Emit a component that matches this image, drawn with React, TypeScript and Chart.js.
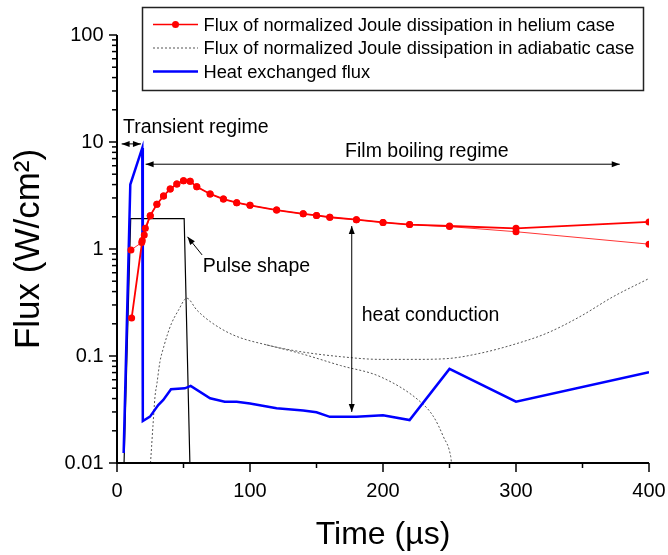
import React, { useEffect, useRef } from 'react';
import { Chart, registerables } from 'chart.js';

Chart.register(...registerables);

const FONT = '"Liberation Sans", Arial, Helvetica, sans-serif';

// Helium case, branch ending high (thicker line)
const heliumTimesA = [11, 19, 21.3, 25, 30, 35, 40, 45, 50, 55, 60, 70, 80, 90, 100, 120, 140, 150, 160, 180, 200, 220, 250, 300, 400];
const heliumFluxA = [0.226, 1.2, 1.56, 2.05, 2.62, 3.13, 3.64, 4.05, 4.35, 4.29, 3.82, 3.27, 2.93, 2.71, 2.56, 2.31, 2.13, 2.06, 1.98, 1.88, 1.77, 1.69, 1.64, 1.56, 1.79];
// Helium case, branch ending low (thin line)
const heliumTimesB = [10.5, 18.6, 20.5, 25, 30, 35, 40, 45, 50, 55, 60, 70, 80, 90, 100, 120, 140, 150, 160, 180, 200, 220, 250, 300, 400];
const heliumFluxB = [0.98, 1.15, 1.35, 2.05, 2.62, 3.13, 3.64, 4.05, 4.35, 4.29, 3.82, 3.27, 2.93, 2.71, 2.56, 2.31, 2.13, 2.06, 1.98, 1.88, 1.77, 1.69, 1.62, 1.45, 1.11];

// Adiabatic case (two dotted branches)
const adiabaticTimesUpper = [25.2, 26, 27, 28.6, 30, 32.3, 35, 38, 41, 46, 52.5, 60, 70, 87.5, 112.5, 137.5, 168, 198, 223, 248, 273, 300, 323, 348, 373, 400];
const adiabaticFluxUpper = [0.01, 0.0142, 0.022, 0.042, 0.055, 0.0885, 0.12, 0.16, 0.202, 0.265, 0.347, 0.269, 0.21, 0.157, 0.127, 0.11, 0.0986, 0.093, 0.093, 0.0945, 0.106, 0.13, 0.163, 0.233, 0.358, 0.53];
const adiabaticTimesLower = [112.5, 137.5, 168, 198, 228, 238, 245.4, 250.9, 251.5];
const adiabaticFluxLower = [0.127, 0.106, 0.0815, 0.064, 0.0374, 0.0271, 0.0176, 0.0115, 0.01];

// Heat exchanged flux
const heatTimes = [5, 10, 19, 19.4, 24.8, 31, 34.8, 40.6, 51, 55.4, 70, 81, 90, 100, 120, 140, 150, 160, 180, 200, 220, 250, 300, 400];
const heatFlux = [0.0124, 4.0, 8.8, 0.0247, 0.0271, 0.0348, 0.0388, 0.0489, 0.0499, 0.0525, 0.0403, 0.0374, 0.0374, 0.036, 0.0325, 0.031, 0.0298, 0.027, 0.027, 0.028, 0.0252, 0.0757, 0.0374, 0.0705];

// Pulse shape
const pulseTimes = [5.3, 10.3, 50.5, 54.8];
const pulseFlux = [0.01, 1.92, 1.92, 0.01];

const xTickValues = [0, 100, 200, 300, 400];
const xTickLabels = ['0', '100', '200', '300', '400'];
const xMinorTickValues = [50, 150, 250, 350];
const yTickValues = [0.01, 0.1, 1, 10, 100];
const yTickLabels = ['0.01', '0.1', '1', '10', '100'];

const legendLabels = [
  'Flux of normalized Joule dissipation in helium case',
  'Flux of normalized Joule dissipation in adiabatic case',
  'Heat exchanged flux',
];

const RED = '#ff0000';
const BLUE = '#0000ff';
const GRAY = '#555555';

function pts(xs: number[], ys: number[]) {
  return xs.map((x, i) => ({ x, y: ys[i] }));
}

function head(ctx: CanvasRenderingContext2D, x1: number, y1: number, x2: number, y2: number, len = 8, half = 3) {
  const a = Math.atan2(y2 - y1, x2 - x1);
  const c = Math.cos(a), s = Math.sin(a);
  ctx.beginPath();
  ctx.moveTo(x2, y2);
  ctx.lineTo(x2 - len * c + half * s, y2 - len * s - half * c);
  ctx.lineTo(x2 - len * c - half * s, y2 - len * s + half * c);
  ctx.closePath();
  ctx.fill();
}

function arrow(ctx: CanvasRenderingContext2D, x1: number, y1: number, x2: number, y2: number, both: boolean) {
  ctx.beginPath();
  ctx.moveTo(x1, y1);
  ctx.lineTo(x2, y2);
  ctx.stroke();
  head(ctx, x1, y1, x2, y2);
  if (both) head(ctx, x2, y2, x1, y1);
}

const overlayPlugin = {
  id: 'overlay',
  afterDraw(chart: any) {
    const { ctx, chartArea: ca, scales } = chart;
    const xs = scales.x, ys = scales.y;
    const X = (t: number) => xs.getPixelForValue(t);
    const Y = (v: number) => ys.getPixelForValue(v);
    ctx.save();

    // axes
    ctx.strokeStyle = '#000';
    ctx.lineWidth = 2;
    ctx.beginPath();
    ctx.moveTo(ca.left, ca.top);
    ctx.lineTo(ca.left, ca.bottom);
    ctx.stroke();
    ctx.beginPath();
    ctx.moveTo(ca.left - 1, ca.bottom);
    ctx.lineTo(ca.right, ca.bottom);
    ctx.stroke();

    // tick marks
    ctx.lineWidth = 1.5;
    const line = (a: number, b: number, c: number, d: number) => {
      ctx.beginPath(); ctx.moveTo(a, b); ctx.lineTo(c, d); ctx.stroke();
    };
    xTickValues.forEach((v) => { const p = X(v); line(p, ca.bottom, p, ca.bottom + 9); });
    xMinorTickValues.forEach((v) => { const p = X(v); line(p, ca.bottom, p, ca.bottom + 5); });
    yTickValues.forEach((v, i) => {
      const p = Y(v);
      line(ca.left, p, ca.left - 8, p);
      if (i < yTickValues.length - 1) {
        for (let k = 2; k <= 9; k++) {
          const q = Y(v * k);
          line(ca.left, q, ca.left - 5, q);
        }
      }
    });

    // annotations
    ctx.strokeStyle = '#000';
    ctx.fillStyle = '#000';
    ctx.lineWidth = 1;
    arrow(ctx, X(3.5), Y(9.6), X(18), Y(9.6), true);
    arrow(ctx, X(21.5), Y(6.2), X(378), Y(6.2), true);
    arrow(ctx, X(176.5), Y(1.64), X(176.5), Y(0.03), true);
    arrow(ctx, X(64), Y(0.88), X(53), Y(1.3), false);

    ctx.font = `19.5px ${FONT}`;
    ctx.textBaseline = 'middle';
    ctx.textAlign = 'left';
    ctx.fillText('Transient regime', X(4.5), Y(13.7));
    ctx.fillText('Pulse shape', X(64.5), Y(0.68));
    ctx.fillText('heat conduction', X(184), Y(0.2366));
    ctx.textAlign = 'center';
    ctx.fillText('Film boiling regime', X(233), Y(8.1));

    // legend
    ctx.lineWidth = 1.5;
    ctx.strokeStyle = '#222';
    ctx.strokeRect(142.5, 7.5, 501, 83);
    const rows = [24.5, 48, 71.5];
    // row 1
    ctx.strokeStyle = RED; ctx.lineWidth = 1.5;
    line(153, rows[0], 198, rows[0]);
    ctx.fillStyle = RED;
    ctx.beginPath(); ctx.arc(175.5, rows[0], 3.5, 0, Math.PI * 2); ctx.fill();
    // row 2
    ctx.strokeStyle = GRAY; ctx.lineWidth = 1; ctx.setLineDash([2, 2]);
    line(153, rows[1], 198, rows[1]);
    ctx.setLineDash([]);
    // row 3
    ctx.strokeStyle = BLUE; ctx.lineWidth = 2.5;
    line(153, rows[2], 198, rows[2]);
    ctx.font = `18.3px ${FONT}`;
    ctx.textAlign = 'left';
    ctx.fillStyle = '#000';
    legendLabels.forEach((t, i) => ctx.fillText(t, 203.5, rows[i] + 1));

    ctx.restore();
  },
};

export default function App() {
  const ref = useRef<HTMLCanvasElement | null>(null);
  useEffect(() => {
    if (!ref.current) return;
    const chart = new Chart(ref.current, {
      type: 'line',
      data: {
        datasets: [
          {
            label: legendLabels[0], data: pts(heliumTimesA, heliumFluxA), borderColor: RED, backgroundColor: RED,
            borderWidth: 1.8, pointRadius: 3.5, pointBorderWidth: 0, pointBackgroundColor: RED, tension: 0, order: 0,
          },
          {
            label: legendLabels[0] + ' (b)', data: pts(heliumTimesB, heliumFluxB), borderColor: RED, backgroundColor: RED,
            borderWidth: 0.8, pointRadius: 3.5, pointBorderWidth: 0, pointBackgroundColor: RED, tension: 0, order: 1,
          },
          {
            label: legendLabels[2], data: pts(heatTimes, heatFlux), borderColor: BLUE, borderWidth: 2.5,
            pointRadius: 0, tension: 0, order: 2,
          },
          {
            label: 'Pulse shape', data: pts(pulseTimes, pulseFlux), borderColor: '#000', borderWidth: 1.2,
            pointRadius: 0, tension: 0, order: 3,
          },
          {
            label: legendLabels[1], data: pts(adiabaticTimesUpper, adiabaticFluxUpper), borderColor: GRAY, borderWidth: 1,
            borderDash: [2, 2], pointRadius: 0, cubicInterpolationMode: 'monotone', order: 4,
          },
          {
            label: legendLabels[1] + ' (b)', data: pts(adiabaticTimesLower, adiabaticFluxLower), borderColor: GRAY, borderWidth: 1,
            borderDash: [2, 2], pointRadius: 0, cubicInterpolationMode: 'monotone', order: 5,
          },
        ],
      },
      options: {
        animation: false,
        responsive: false,
        devicePixelRatio: 1,
        events: [],
        layout: { padding: { left: 0, right: 19, top: 35, bottom: 0 } },
        plugins: { legend: { display: false }, tooltip: { enabled: false } },
        scales: {
          x: {
            type: 'linear', min: 0, max: 400,
            grid: { display: false, drawTicks: false },
            border: { display: false },
            afterBuildTicks: (s: any) => { s.ticks = xTickValues.map((v) => ({ value: v })); },
            afterFit: (s: any) => { s.height = 92; s.paddingLeft = 0; s.paddingRight = 0; },
            ticks: {
              autoSkip: false, maxRotation: 0, padding: 16, color: '#000',
              font: { family: FONT, size: 20 },
              callback: (v: any, i: number) => xTickLabels[i],
            },
            title: {
              display: true, text: 'Time (\u00b5s)', color: '#000',
              font: { family: FONT, size: 32 }, padding: { top: 0, bottom: 1 },
            },
          },
          y: {
            type: 'logarithmic', min: 0.01, max: 100,
            grid: { display: false, drawTicks: false },
            border: { display: false },
            afterBuildTicks: (s: any) => { s.ticks = yTickValues.map((v) => ({ value: v })); },
            afterFit: (s: any) => { s.width = 117; s.paddingTop = 0; s.paddingBottom = 0; },
            ticks: {
              autoSkip: false, padding: 13.5, color: '#000',
              font: { family: FONT, size: 20 },
              callback: (v: any, i: number) => yTickLabels[i],
            },
            title: {
              display: true, text: 'Flux (W/cm\u00b2)', color: '#000',
              font: { family: FONT, size: 35 }, padding: { top: 8, bottom: 0 },
            },
          },
        },
      },
      plugins: [overlayPlugin],
    } as any);
    return () => chart.destroy();
  }, []);
  return (
    <div style={{ position: 'absolute', left: 0, top: 0, width: 668, height: 555, background: '#fff' }}>
      <canvas ref={ref} width={668} height={555} style={{ display: 'block' }} />
    </div>
  );
}
